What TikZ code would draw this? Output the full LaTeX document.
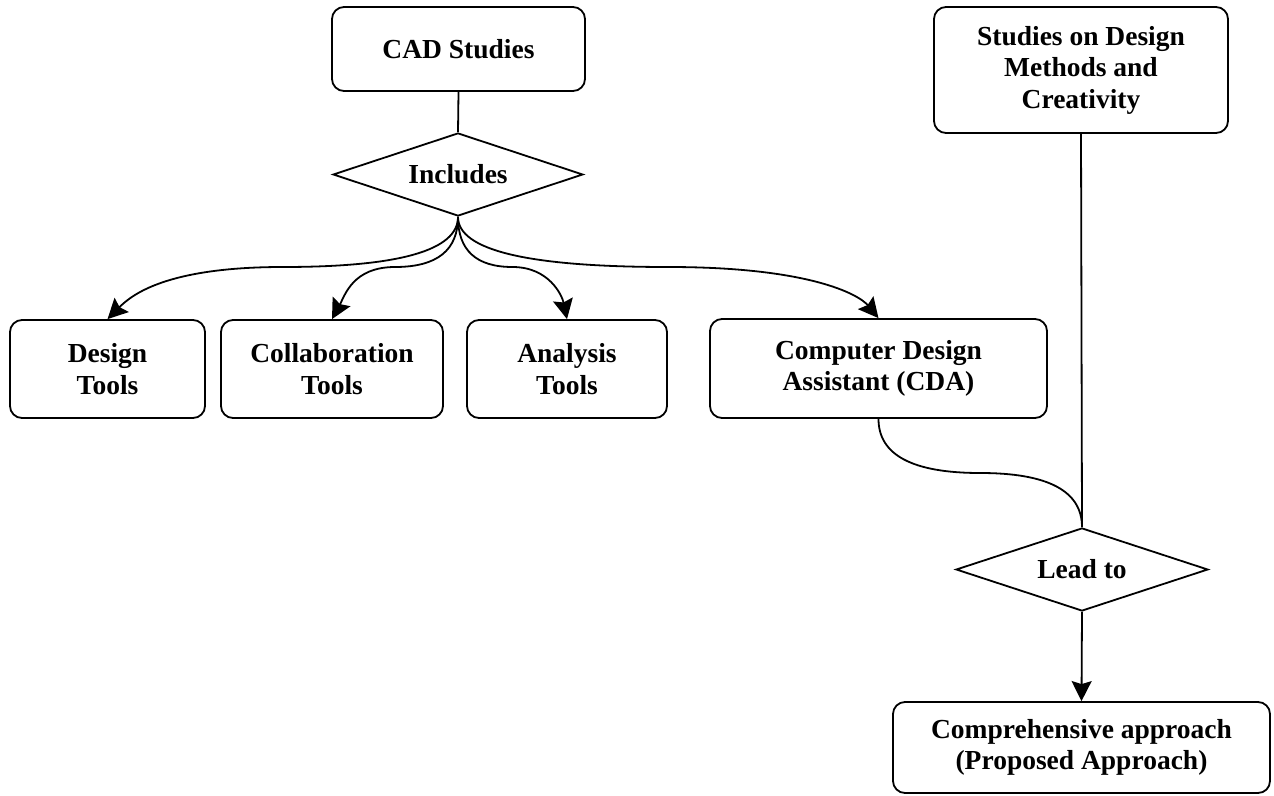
\documentclass[tikz,border=0pt]{standalone}
\usepackage{fontspec}
\setmainfont{Liberation Serif}
\usetikzlibrary{shapes.geometric,arrows.meta,calc}
\begin{document}
\begin{tikzpicture}[x=1pt,y=-1pt,
  every node/.style={font=\fontsize{27.5}{31.5}\selectfont\bfseries, align=center},
  box/.style={draw, line width=1.8pt, rounded corners=12pt, inner sep=0pt},
  choice/.style={draw, diamond, line width=1.8pt, inner sep=0pt, aspect=3},
  link/.style={line width=1.8pt},
  tip/.style={link, -{Stealth[length=20pt,width=20pt,inset=3pt]}}]
\useasboundingbox (0,0) rectangle (1274,795);

% top-left branch
\node[box, minimum width=253pt, minimum height=84pt] (cad) at (458.5,49) {CAD Studies};
\node[choice, minimum width=250pt, minimum height=83pt] (inc) at (458,174.5) {Includes};

% right branch
\node[box, minimum width=294pt, minimum height=126pt] (std) at (1081,70) {Studies on Design\\Methods and\\Creativity};

% row of tools
\node[box, minimum width=195pt, minimum height=98pt] (dt) at (107.5,369) {Design\\Tools};
\node[box, minimum width=222pt, minimum height=98pt] (ct) at (332,369) {Collaboration\\Tools};
\node[box, minimum width=200pt, minimum height=98pt] (at) at (567,369) {Analysis\\Tools};
\node[box, minimum width=337pt, minimum height=99pt] (cda) at (878.5,368.5) {Computer Design\\Assistant (CDA)};

% result
\node[choice, minimum width=252pt, minimum height=83pt] (lead) at (1082,569.5) {Lead to};
\node[box, minimum width=377pt, minimum height=91pt] (comp) at (1081.5,747.5) {Comprehensive approach\\(Proposed Approach)};

% rows where the curved links run level
\coordinate (hd) at (0,267);
\coordinate (hl) at (0,473);

\draw[link] (cad.south) -- (inc.north);

% fan of curved links; the number sets how slanted each one reaches its box
\foreach \t/\s in {dt/24, ct/13, at/-5, cda/-20}{
  \coordinate (p1) at (inc.south|-hd);
  \coordinate (p2) at (\t.north|-hd);
  \coordinate (pm) at ($(p1)!0.5!(p2)$);
  \draw[tip] (inc.south) .. controls ($(inc.south)!2/3!(p1)$) and ($(pm)!2/3!(p1)$) .. (pm)
             .. controls ($(pm)!2/3!(p2)$) and ($(\t.north)+(\s,-24)$) .. (\t.north);
}

\coordinate (q1) at (cda.south|-hl);
\coordinate (q2) at (lead.north|-hl);
\coordinate (qm) at ($(q1)!0.5!(q2)$);
\draw[link] (cda.south) .. controls ($(cda.south)!2/3!(q1)$) and ($(qm)!2/3!(q1)$) .. (qm)
            .. controls ($(qm)!2/3!(q2)$) and ($(lead.north)!2/3!(q2)$) .. (lead.north);

\draw[link] (std.south) -- (lead.north);
\draw[tip] (lead.south) -- (comp.north);
\end{tikzpicture}
\end{document}
